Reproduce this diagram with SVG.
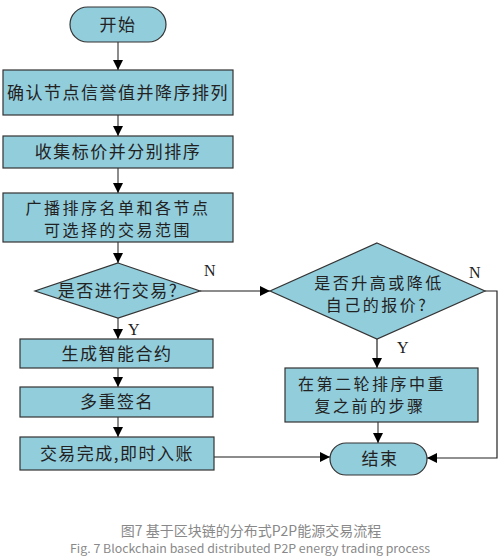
<svg xmlns="http://www.w3.org/2000/svg" width="502" height="560" viewBox="0 0 502 560">
<style>
.n{fill:#92CDDC;stroke:#333;stroke-width:1.2}
.t{font-family:"Noto Sans CJK SC","Noto Sans",sans-serif;font-size:17px;fill:#222;text-anchor:middle;letter-spacing:1.5px}
.t2{font-size:16px;letter-spacing:2.5px}
.l{font-family:"Liberation Serif",serif;font-size:16px;fill:#222}
.c{fill:none;stroke:#666;stroke-width:1.5}
.k{fill:none;stroke:#222;stroke-width:1.2}
.cap{font-family:"Noto Sans CJK SC","Open Sans",sans-serif;fill:#888;text-anchor:middle}
</style>
<defs>
<marker id="a" viewBox="0 0 10 10" refX="10" refY="5" markerWidth="10" markerHeight="10" markerUnits="userSpaceOnUse" orient="auto">
<path d="M0,0 L10,5 L0,10 z" fill="#000"/>
</marker>
</defs>
<rect width="502" height="560" fill="#fff"/>
<g id="connectors">
<path class="c" d="M118,42 V70" marker-end="url(#a)"/>
<path class="c" d="M118,115 V136" marker-end="url(#a)"/>
<path class="c" d="M118,168 V193" marker-end="url(#a)"/>
<path class="c" d="M118,242 V263" marker-end="url(#a)"/>
<path class="c" d="M200,291 H270" marker-end="url(#a)"/>
<path class="c" d="M118,318 V339" marker-end="url(#a)"/>
<path class="c" d="M118,368 V387" marker-end="url(#a)"/>
<path class="c" d="M118,417 V437" marker-end="url(#a)"/>
<path class="c" d="M214,457 H330" marker-end="url(#a)"/>
<path class="k" d="M377,339 V368" marker-end="url(#a)"/>
<path class="c" d="M378,422 V443" marker-end="url(#a)"/>
<path class="k" d="M485,291 H497 V458 H427" marker-end="url(#a)"/>
<text class="l" x="204" y="276">N</text>
<text class="l" x="128" y="335">Y</text>
<text class="l" x="469" y="278">N</text>
<text class="l" x="397" y="353">Y</text>
</g>
<g id="start"><rect class="n" x="70" y="7" width="96" height="35" rx="17.5"/><text class="t" x="118" y="31">开始</text></g>
<g id="step1"><rect class="n" x="3" y="70" width="230" height="45"/><text class="t" x="118" y="99">确认节点信誉值并降序排列</text></g>
<g id="step2"><rect class="n" x="3" y="136" width="230" height="32"/><text class="t" x="118" y="158">收集标价并分别排序</text></g>
<g id="step3"><rect class="n" x="3" y="193" width="230" height="49"/><text class="t t2" x="118" y="214">广播排序名单和各节点</text><text class="t t2" x="118" y="236">可选择的交易范围</text></g>
<g id="decision1"><path class="n" d="M118,263 L200,291 L118,318 L35,291 z"/><text class="t" x="118" y="297">是否进行交易?</text></g>
<g id="step4"><rect class="n" x="20" y="339" width="193" height="29"/><text class="t" x="117" y="360">生成智能合约</text></g>
<g id="step5"><rect class="n" x="20" y="387" width="193" height="30"/><text class="t" x="117" y="408">多重签名</text></g>
<g id="step6"><rect class="n" x="20" y="437" width="194" height="33"/><text class="t" x="117" y="460">交易完成,即时入账</text></g>
<g id="decision2"><path class="n" d="M377,243 L485,291 L377,339 L270,291 z"/><text class="t t2" x="379" y="289">是否升高或降低</text><text class="t t2" x="377" y="311">自己的报价?</text></g>
<g id="step7"><rect class="n" x="285" y="368" width="193" height="54"/><text class="t t2" x="372" y="390">在第二轮排序中重</text><text class="t t2" x="370" y="412">复之前的步骤</text></g>
<g id="end"><rect class="n" x="330" y="443" width="97" height="32" rx="16"/><text class="t" x="380" y="465">结束</text></g>
<text class="cap" x="251" y="536" font-size="14">图7 基于区块链的分布式P2P能源交易流程</text>
<text class="cap" x="250" y="553" font-size="11.5" textLength="360" lengthAdjust="spacingAndGlyphs" font-family="Open Sans">Fig. 7 Blockchain based distributed P2P energy trading process</text>
</svg>
